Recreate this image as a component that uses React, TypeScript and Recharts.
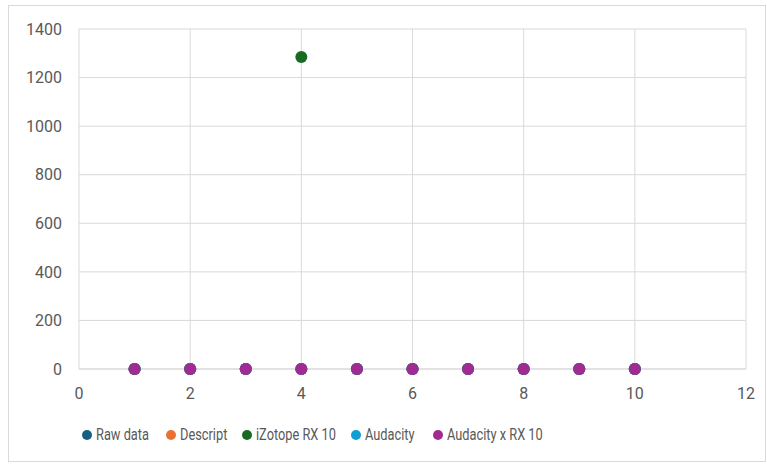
import {
  ScatterChart,
  Scatter,
  XAxis,
  YAxis,
  CartesianGrid,
  Legend,
} from "recharts";

const xValues = [1, 2, 3, 4, 5, 6, 7, 8, 9, 10];
const rawData = [0, 0, 0, 0, 0, 0, 0, 0, 0, 0];
const descript = [0, 0, 0, 0, 0, 0, 0, 0, 0, 0];
const izotope = [0, 0, 0, 1285, 0, 0, 0, 0, 0, 0];
const audacity = [0, 0, 0, 0, 0, 0, 0, 0, 0, 0];
const audacityRx = [0, 0, 0, 0, 0, 0, 0, 0, 0, 0];

const xTicks = [0, 2, 4, 6, 8, 10, 12];
const yTicks = [0, 200, 400, 600, 800, 1000, 1200, 1400];

const series = [
  { name: "Raw data", values: rawData, color: "#156082" },
  { name: "Descript", values: descript, color: "#E97132" },
  { name: "iZotope RX 10", values: izotope, color: "#196B24" },
  { name: "Audacity", values: audacity, color: "#0F9ED5" },
  { name: "Audacity x RX 10", values: audacityRx, color: "#A02B93" },
];
// legend slot widths, so the markers land where the original puts them
const legendSlots = [84, 76, 109, 82, 120];

const FONT = 'Roboto, "Noto Sans", sans-serif';
const W = 756;
const H = 455;

const toPoints = (values: number[]) =>
  xValues.map((x, i) => ({ x, y: values[i] }));

const Dot = (color: string) => (props: any) =>
  <circle cx={props.cx} cy={props.cy} r={6} fill={color} />;

function LegendContent() {
  return (
    <div
      style={{
        display: "flex",
        paddingLeft: 73,
        fontFamily: FONT,
        fontSize: 16,
        color: "#595959",
        lineHeight: "20px",
        height: 20,
      }}
    >
      {series.map((s, i) => (
        <div
          key={s.name}
          style={{
            display: "flex",
            alignItems: "center",
            width: legendSlots[i],
            flex: "none",
            whiteSpace: "nowrap",
          }}
        >
          <span
            style={{
              width: 10,
              height: 10,
              borderRadius: 5,
              background: s.color,
              marginRight: 4,
              display: "inline-block",
              flex: "none",
            }}
          />
          <span
            style={{
              display: "inline-block",
              transform: "scaleX(0.8)",
              transformOrigin: "left center",
            }}
          >
            {s.name}
          </span>
        </div>
      ))}
    </div>
  );
}

export default function App() {
  return (
    <div
      style={{
        position: "absolute",
        left: 8,
        top: 5,
        width: W,
        height: H,
        border: "1px solid #d9d9d9",
        background: "#fff",
      }}
    >
      <ScatterChart
        width={W}
        height={H}
        margin={{ top: 23, right: 19, left: 0, bottom: 16 }}
      >
        <CartesianGrid stroke="#d9d9d9" strokeWidth={1} />
        <XAxis
          type="number"
          dataKey="x"
          domain={[0, 12]}
          ticks={xTicks}
          interval={0}
          height={56}
          axisLine={{ stroke: "#d9d9d9" }}
          tickLine={false}
          tickSize={0}
          tickMargin={19}
          tick={{ fontSize: 16, fill: "#595959", fontFamily: FONT }}
        />
        <YAxis
          type="number"
          dataKey="y"
          domain={[0, 1400]}
          ticks={yTicks}
          interval={0}
          width={70}
          axisLine={false}
          tickLine={false}
          tickSize={0}
          tickMargin={17}
          tick={{ fontSize: 16, fill: "#595959", fontFamily: FONT }}
        />
        <Legend
          verticalAlign="bottom"
          align="left"
          height={20}
          wrapperStyle={{ left: 0, width: W }}
          content={() => <LegendContent />}
        />
        {series.map((s) => (
          <Scatter
            key={s.name}
            name={s.name}
            data={toPoints(s.values)}
            fill={s.color}
            shape={Dot(s.color)}
            isAnimationActive={false}
          />
        ))}
      </ScatterChart>
    </div>
  );
}
